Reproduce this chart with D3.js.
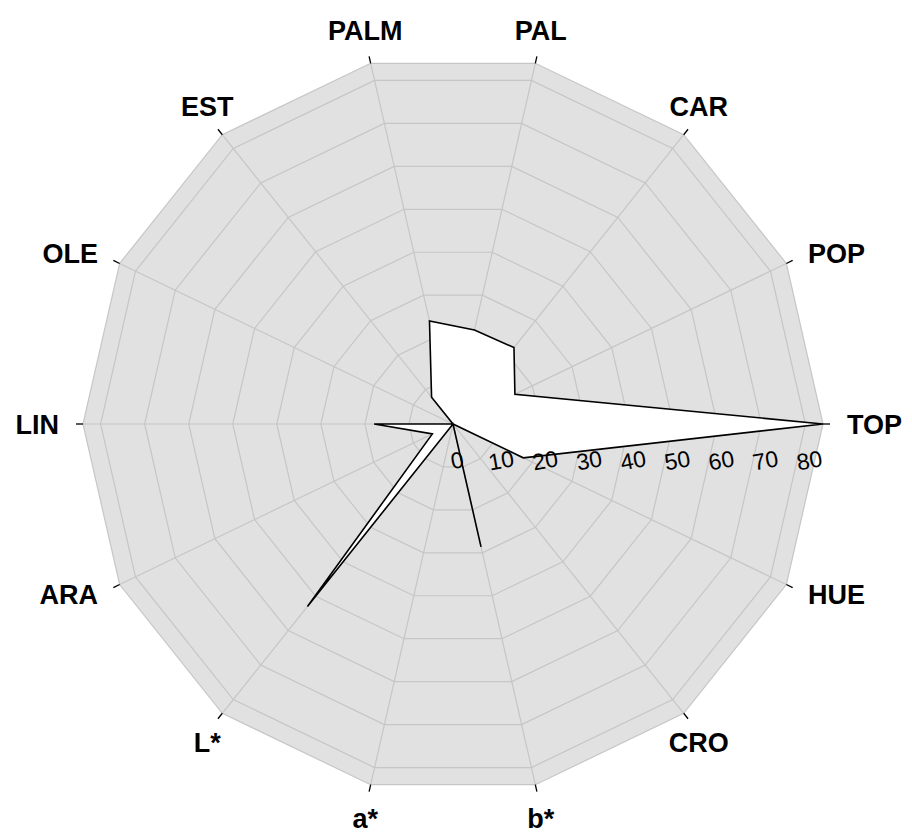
<!DOCTYPE html>
<html><head><meta charset="utf-8">
<script src="https://cdn.jsdelivr.net/npm/d3@7"></script>
<style>body{margin:0;background:#fff} svg{display:block}</style>
</head><body>
<svg id="c" width="912" height="834"></svg>
<script>
const categories = ["TOP","POP","CAR","PAL","PALM","EST","OLE","LIN","ARA","L*","a*","b*","CRO","HUE"];
const values = [84, 15.6, 22.2, 21.9, 24.0, 7.8, 0, 17.9, 5.2, 53, 0, 28.6, 0, 17.7];
const ringValues = [10, 20, 30, 40, 50, 60, 70, 80];
const tickLabels = ["0","10","20","30","40","50","60","70","80"];
const tickValues = [0, 10, 20, 30, 40, 50, 60, 70, 80];
const maxValue = 84;

const cx = 453, cy = 424, R = 370;
const svg = d3.select("#c");
const r = d3.scaleLinear().domain([0, maxValue]).range([0, R]);
const ang = d3.scaleLinear().domain([0, categories.length]).range([0, 2 * Math.PI]);
function pt(i, v) { const a = ang(i); return [cx + r(v) * Math.cos(a), cy - r(v) * Math.sin(a)]; }
const closed = d3.line().curve(d3.curveLinearClosed);
const gridCol = "#c6c6c6";

svg.append("path").attr("d", closed(categories.map((c, i) => pt(i, maxValue))))
  .attr("fill", "#e1e1e1").attr("stroke", gridCol).attr("stroke-width", 1.2);
ringValues.forEach(v => svg.append("path").attr("d", closed(categories.map((c, i) => pt(i, v))))
  .attr("fill", "none").attr("stroke", gridCol).attr("stroke-width", 1.2));
svg.append("g").selectAll("line").data(categories).join("line")
  .attr("x1", cx).attr("y1", cy)
  .attr("x2", (c, i) => pt(i, maxValue)[0]).attr("y2", (c, i) => pt(i, maxValue)[1])
  .attr("stroke", gridCol).attr("stroke-width", 1.2);

svg.append("path").attr("d", closed(values.map((v, i) => pt(i, v))))
  .attr("fill", "#fff").attr("stroke", "#000").attr("stroke-width", 1.6).attr("stroke-linejoin", "miter");

// tick marks at outer vertices
svg.append("g").selectAll("line").data(categories).join("line")
  .attr("x1", (c, i) => pt(i, maxValue)[0]).attr("y1", (c, i) => pt(i, maxValue)[1])
  .attr("x2", (c, i) => pt(i, maxValue + 7 / R * maxValue)[0]).attr("y2", (c, i) => pt(i, maxValue + 7 / R * maxValue)[1])
  .attr("stroke", "#000").attr("stroke-width", 1.3);

// axis labels
const lab = svg.append("g").attr("font-family", "Liberation Sans, Arial, Helvetica, sans-serif")
  .attr("font-weight", "bold").attr("font-size", 27).attr("fill", "#000");
categories.forEach((c, i) => {
  const a = ang(i), co = Math.cos(a), si = Math.sin(a);
  const p = pt(i, maxValue + 24 / R * maxValue);
  let anchor = "middle", y = p[1];
  if (Math.abs(co) > 0.85) { anchor = co > 0 ? "start" : "end"; y = p[1] + 9.5; }
  else if (si > 0) { y = p[1]; }
  else { y = p[1] + 19.5; }
  lab.append("text").attr("x", p[0]).attr("y", y).attr("text-anchor", anchor).text(c);
});

// radial tick labels
const tl = svg.append("g").attr("font-family", "Liberation Sans, Arial, Helvetica, sans-serif")
  .attr("font-size", 23).attr("fill", "#000");
tickValues.forEach((v, k) => {
  const x = cx + r(v) + 4, y = cy + 36;
  tl.append("text").attr("transform", `translate(${x},${y}) rotate(-10)`)
    .attr("text-anchor", "middle").attr("dy", "0.36em").text(tickLabels[k]);
});
</script>
</body></html>
